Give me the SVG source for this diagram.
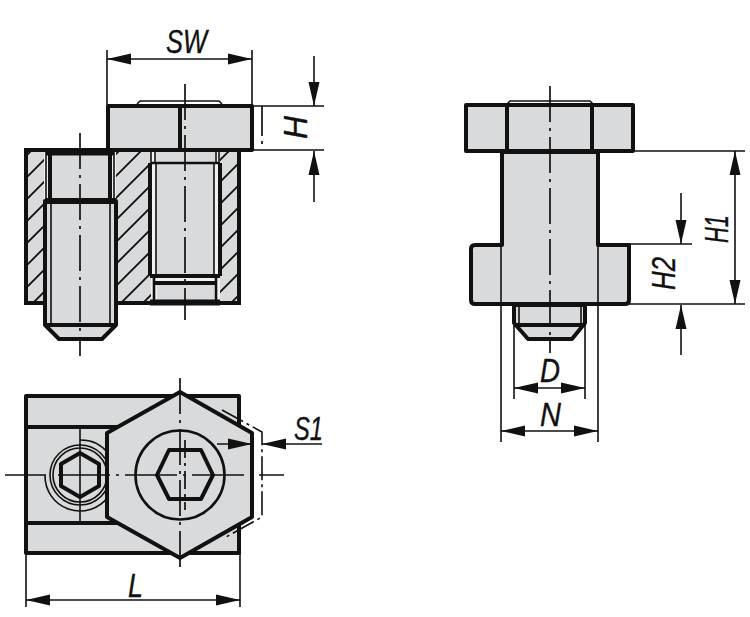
<svg xmlns="http://www.w3.org/2000/svg" width="750" height="617" viewBox="0 0 750 617">
<style>
.o{fill:#d9dadb;stroke:#111;stroke-width:4;stroke-linejoin:round}
.n{fill:none;stroke:#111;stroke-width:4;stroke-linejoin:round}
.m{fill:none;stroke:#111;stroke-width:2.6}
.t{fill:none;stroke:#111;stroke-width:1.6}
.c{fill:none;stroke:#111;stroke-width:1.7;stroke-dasharray:36 6 3 6}
.d{fill:none;stroke:#111;stroke-width:1.6}
.a{fill:#111;stroke:none}
.l{font-family:"Liberation Sans",Arial,sans-serif;font-style:italic;font-size:33px;fill:#111;stroke:#111;stroke-width:.35}
</style>
<defs>
<pattern id="h" patternUnits="userSpaceOnUse" x="0" y="6" width="22" height="22">
<rect width="22" height="22" fill="#d9dadb"/>
<path d="M-2 24L24 -2M-13 13L13 -13M9 35L35 9" stroke="#111" stroke-width="1.9"/>
</pattern>
<marker id="ar" markerUnits="userSpaceOnUse" markerWidth="24" markerHeight="12" refX="24" refY="5.5" orient="auto-start-reverse" viewBox="0 0 24 11"><path d="M0 0L24 5.5L0 11Z" class="a"/></marker>
</defs>

<g id="view-section">
<rect x="26" y="150" width="213" height="153" fill="url(#h)" stroke="#111" stroke-width="4"/>
<g id="screw-left">
<rect x="44" y="152" width="6" height="49" fill="#eee"/>
<rect x="111" y="152" width="5" height="49" fill="#eee"/>
<path d="M46 152V200M114 152V200" class="t"/>
<rect x="50" y="152" width="60" height="48" class="o"/>
<path d="M46 152.500H114" class="n" style="stroke-width:6"/>
<path d="M45 201V325L59 339H102L116 325V201Z" class="o"/>
<path d="M45 201H116" class="n" style="stroke-width:6"/>
<path d="M45 325H116" class="n"/>
<path d="M51 203V324M110 203V324" class="t"/>
</g>
<g id="screw-right">
<rect x="151" y="152" width="69" height="150" fill="#f2f2f2"/>
<rect x="156" y="152" width="59" height="12" fill="#d9dadb"/>
<rect x="156" y="163" width="58" height="113" fill="#d9dadb"/>
<rect x="157" y="284" width="57" height="18" fill="#d9dadb"/>
<path d="M150 163V276M220 163V276" class="n"/>
<path d="M151 163H220" class="m"/>
<path d="M150 276H220M154 283H216" class="n"/>
<path d="M151 152V162M219 152V162M155 152V162M216 152V162M156 164V275M214 164V275" class="t"/>
<path d="M154 278V302M216 278V302" class="m"/>
<path d="M150 302.500H220" class="n" style="stroke-width:6"/>
</g>
<g id="head-front">
<rect x="108" y="106" width="144" height="44" class="o"/>
<path d="M180 106V150" class="n"/>
<path d="M137 104L140 101H219L222 104" class="t"/>
</g>
</g>

<g id="view-plan">
<rect x="26" y="396" width="213" height="157" class="o"/>
<path d="M26 427H118M26 523H118" class="n"/>
<g id="screw-plan">
<circle cx="80" cy="475" r="30" class="t"/>
<circle cx="80" cy="475" r="27" class="t"/>
<path d="M45 475A35 35 0 0 0 108 497M80 440A35 35 0 0 1 108 453" class="t"/>
<path d="M80 453L99 464V486L80 497L61 486V464Z" class="n"/>
<path d="M80 428V522" class="t"/>
</g>
<g id="head-plan">
<path d="M180 392L252 433V517L180 558L107 517V433Z" class="o"/>
<circle cx="180" cy="475" r="44.500" class="m"/>
<path d="M157 475L169 450H201L213 475L201 499H169Z" class="n"/>
<path d="M222 410L262 432V517L226 537" fill="none" stroke="#111" stroke-width="1.6" stroke-dasharray="24 4 3 4"/>
</g>
<path d="M5 475H46M58 475H284" class="t" style="stroke-dasharray:52 6 3 6"/>
<path d="M180 378V572" class="c"/>
<path d="M185 440V510" class="c" style="stroke-dasharray:18 5 3 5"/>
</g>

<g id="view-side">
<path d="M502 152V245H475Q471 245 471 249V300Q471 304 475 304H625Q629 304 629 300V245H598V152Z" class="o"/>
<path d="M501 245V304M598 245V304" class="t"/>
<rect x="466" y="105" width="167" height="46" class="o"/>
<path d="M507 105V151M592 105V151" class="n"/>
<path d="M507 104L510 101H590L593 104" class="t"/>
<g id="stud">
<path d="M514 305V323L528 339H572L585 323V305Z" class="o"/>
<path d="M514 325H585" class="n"/>
<path d="M519 305V323M581 305V323" class="t"/>
</g>
</g>

<g id="connectors">
<path d="M80 133V356" class="c"/>
<path d="M185 84V320" class="c"/>
<path d="M262 106V147" class="c" style="stroke-dasharray:30 5 3 5"/>
<path d="M550 86V353" class="c"/>

<path d="M107 50V105M252 50V105" class="d"/>
<path d="M107 59H252" class="d" marker-start="url(#ar)" marker-end="url(#ar)"/>
<path d="M253 106H324M253 150H324" class="d"/>
<path d="M314 56V106" class="d" marker-end="url(#ar)"/>
<path d="M314 202V151" class="d" marker-end="url(#ar)"/>
<path d="M26 553V607M240 553V607" class="d"/>
<path d="M26 600H240" class="d" marker-start="url(#ar)" marker-end="url(#ar)"/>
<path d="M217 444H252" class="d" marker-end="url(#ar)"/>
<path d="M322 444H262" class="d" marker-end="url(#ar)"/>
<path d="M501 304V442M598 304V442" class="d"/>
<path d="M501 431H598" class="d" marker-start="url(#ar)" marker-end="url(#ar)"/>
<path d="M514 325V399M585 325V399" class="d"/>
<path d="M514 388H585" class="d" marker-start="url(#ar)" marker-end="url(#ar)"/>
<path d="M634 151H745M629 304H745M629 244H692" class="d"/>
<path d="M735 151V304" class="d" marker-start="url(#ar)" marker-end="url(#ar)"/>
<path d="M681 193V244" class="d" marker-end="url(#ar)"/>
<path d="M681 355V305" class="d" marker-end="url(#ar)"/>
</g>

<g id="labels">
<text class="l" x="166" y="53" textLength="41" lengthAdjust="spacingAndGlyphs">SW</text>
<text class="l" transform="translate(307,139) rotate(-90)" textLength="23" lengthAdjust="spacingAndGlyphs">H</text>
<text class="l" x="294" y="440" textLength="29" lengthAdjust="spacingAndGlyphs">S1</text>
<text class="l" x="128" y="597" textLength="15" lengthAdjust="spacingAndGlyphs">L</text>
<text class="l" x="540" y="382" textLength="20" lengthAdjust="spacingAndGlyphs">D</text>
<text class="l" x="540" y="426" textLength="21" lengthAdjust="spacingAndGlyphs">N</text>
<text class="l" transform="translate(675,290) rotate(-90)" textLength="33" lengthAdjust="spacingAndGlyphs">H2</text>
<text class="l" transform="translate(728,243) rotate(-90)" textLength="28" lengthAdjust="spacingAndGlyphs">H1</text>
</g>
</svg>
